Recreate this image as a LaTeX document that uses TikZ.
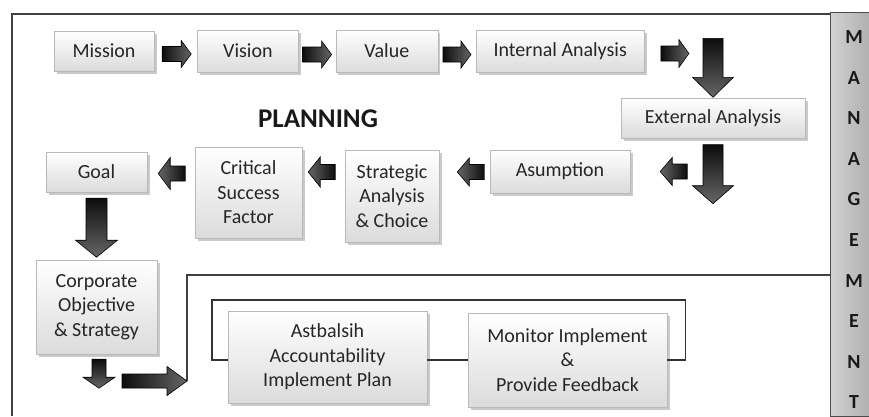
\documentclass[tikz,border=0pt]{standalone}
\usepackage{fontspec}
\setmainfont{Carlito}
\usetikzlibrary{positioning, calc, shadows}

\begin{document}
\begin{tikzpicture}[
  x=1pt, y=-1pt,
  stagebox/.style={draw=gray!55, top color=white, bottom color=gray!28,
    drop shadow={shadow xshift=2.5pt, shadow yshift=-2.5pt, fill=gray!70, opacity=.6},
    align=center, inner sep=2pt, text=black!85,
    font=\fontsize{20}{24.5}\selectfont},
  frameline/.style={draw=black!75, line width=1.4pt},
  loopline/.style={draw=black!80, line width=1.1pt},
  arrowbody/.style={draw=black, line width=.6pt},
  mgmtbar/.style={draw=gray!60!black, left color=gray!35, right color=gray!62,
    minimum width=39pt, minimum height=404pt, inner sep=0pt},
  barletter/.style={font=\fontsize{20}{24}\selectfont\bfseries, text=black!90},
  pics/rarrow/.style args={#1/#2/#3/#4}{code={
    \path[arrowbody, left color=black!95, right color=black!60]
      (-#1/2,-#2/2) -- (#1/2-#4,-#2/2) -- (#1/2-#4,-#3/2) -- (#1/2,0)
      -- (#1/2-#4,#3/2) -- (#1/2-#4,#2/2) -- (-#1/2,#2/2) -- cycle;
  }},
  pics/larrow/.style args={#1/#2/#3/#4}{code={
    \path[arrowbody, right color=black!95, left color=black!60]
      (#1/2,-#2/2) -- (-#1/2+#4,-#2/2) -- (-#1/2+#4,-#3/2) -- (-#1/2,0)
      -- (-#1/2+#4,#3/2) -- (-#1/2+#4,#2/2) -- (#1/2,#2/2) -- cycle;
  }},
  pics/darrow/.style args={#1/#2/#3/#4}{code={
    \path[arrowbody, top color=black!95, bottom color=black!60]
      (-#2/2,-#1/2) -- (-#2/2,#1/2-#4) -- (-#3/2,#1/2-#4) -- (0,#1/2)
      -- (#3/2,#1/2-#4) -- (#2/2,#1/2-#4) -- (#2/2,-#1/2) -- cycle;
  }}
]
\useasboundingbox (0,0) rectangle (869,416);

% Frame and management bar
\draw[frameline] (12,416) |- (830,14);
\node[mgmtbar] (bar) at (849.5,214) {};
\foreach \ltr [count=\i from 0] in {M,A,N,A,G,E,M,E,N,T}
  \node[barletter] (letter\i) at (854,{37+40.6*\i}) {\ltr};

% Planning row 1
\node[stagebox, minimum width=100pt, minimum height=40pt] (mission) at (104,51) {Mission};
\node[stagebox, minimum width=101pt, minimum height=42pt, right=43pt of mission] (vision) {Vision};
\node[stagebox, minimum width=102pt, minimum height=42pt, right=37pt of vision] (value) {Value};
\node[stagebox, minimum width=168pt, minimum height=42pt, right=38pt of value] (internal) {Internal Analysis};
\node[stagebox, minimum width=184pt, minimum height=40pt] (external) at (713,118) {External Analysis};

\node[font=\fontsize{27}{30}\selectfont\bfseries, text=black!90] (planning) at (318,119) {PLANNING};

% Planning row 2
\node[stagebox, minimum width=140pt, minimum height=43pt] (asumption) at (560,171.5) {Asumption};
\node[stagebox, minimum width=94pt, minimum height=92pt] (strategic) at (392,196) {Strategic\\Analysis\\\& Choice};
\node[stagebox, minimum width=107pt, minimum height=91pt] (critical) at (248.5,192.5) {Critical\\Success\\Factor};
\node[stagebox, minimum width=101pt, minimum height=40pt] (goal) at (96.5,172) {Goal};
\node[stagebox, minimum width=121pt, minimum height=94pt] (corporate) at (96.5,307) {Corporate\\Objective\\\& Strategy};

% Implementation
\node[stagebox, minimum width=199pt, minimum height=92pt] (astbalsih) at (327.5,357) {Astbalsih\\Accountability\\Implement Plan};
\node[stagebox, minimum width=199pt, minimum height=94pt] (monitor) at (567.5,360) {Monitor Implement\\\&\\Provide Feedback};

\coordinate (looptl) at (212,300);
\coordinate (entry) at (187,381);
\draw[frameline] (830,275) -| (entry);
\draw[loopline] (monitor.west) -- (monitor.west -| astbalsih.east);
\draw[loopline] (monitor.east) -- ++(18,0) |- (looptl) |- (monitor.west -| astbalsih.west);

% Block arrows
\pic at ($(mission.east)!.5!(vision.west)+(1,3)$) {rarrow=29/15/27/10};
\pic at ($(vision.east)!.5!(value.west)+(0,3.5)$) {rarrow=29/15/27/10};
\pic at ($(value.east)!.5!(internal.west)+(0,3.5)$) {rarrow=28/15/27/10};
\pic at ($(internal.east)+(30.5,2.5)$) {rarrow=28/15/28/10};
\pic at ($(external.north)+(0,-30)$) {darrow=59/20/41/20};
\pic at ($(external.south)+(0,36)$) {darrow=59/20/41/18};
\pic at ($(asumption.east)+(43.5,0)$) {larrow=27/15/28/12};
\pic at ($(asumption.west)+(-19,0.5)$) {larrow=27/15/28/12};
\pic at ($(critical.east)+(19.5,-20.5)$) {larrow=27/15/30/12};
\pic at ($(goal.east)+(24.5,1.5)$) {larrow=27/15/32/12};
\pic at ($(goal.south)+(0,35.5)$) {darrow=59/21/42/17};
\pic at ($(corporate.south)+(2.5,19.5)$) {darrow=29/14/32/11};
\pic at ($(entry)+(-32.5,0)$) {rarrow=65/14/29/20};
\end{tikzpicture}
\end{document}
